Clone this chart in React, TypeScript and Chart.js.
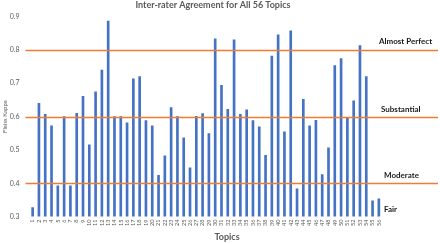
import React, { useEffect, useRef } from "react";
import { Chart, registerables } from "chart.js";

Chart.register(...registerables);

const topics: string[] = [
  "1","2","3","4","5","6","7","8","9","10","11","12","13","14","15","16","17","18","19","20",
  "21","22","23","24","25","26","27","28","29","30","31","32","33","34","35","36","37","38","39","40",
  "41","42","43","44","45","46","47","48","49","50","51","52","53","54","55","56",
];

const kappa: number[] = [
  0.327, 0.64, 0.607, 0.572, 0.392, 0.6, 0.392, 0.61, 0.661, 0.515,
  0.674, 0.739, 0.886, 0.6, 0.6, 0.581, 0.713, 0.72, 0.588, 0.572,
  0.424, 0.482, 0.627, 0.6, 0.536, 0.446, 0.601, 0.609, 0.549, 0.833,
  0.694, 0.622, 0.83, 0.607, 0.62, 0.588, 0.569, 0.484, 0.781, 0.845,
  0.554, 0.857, 0.383, 0.652, 0.572, 0.589, 0.426, 0.506, 0.753, 0.774,
  0.596, 0.647, 0.813, 0.72, 0.347, 0.353,
];

const yTicks: number[] = [0.3, 0.4, 0.5, 0.6, 0.7, 0.8, 0.9];
const thresholds: number[] = [0.4, 0.6, 0.8];
const bandLabels: string[] = ["Fair", "Moderate", "Substantial", "Almost Perfect"];
const bandLabelValues: number[] = [0.3, 0.4, 0.6, 0.8];
const chartTitle = "Inter-rater Agreement for All 56 Topics";
const xTitle = "Topics";

const FONT = "Lato, 'Open Sans', sans-serif";

const overlayPlugin = {
  id: "overlay",
  afterDatasetsDraw(chart: any) {
    const { ctx, chartArea, scales } = chart;
    const y = scales.y;
    ctx.save();
    ctx.strokeStyle = "#ED7D31";
    ctx.lineWidth = 1.3;
    thresholds.forEach((t) => {
      const py = Math.round(y.getPixelForValue(t)) + 0.5;
      ctx.beginPath();
      ctx.moveTo(chartArea.left - 4, py);
      ctx.lineTo(chart.width - 2, py);
      ctx.stroke();
    });
    ctx.fillStyle = "#1a1a1a";
    ctx.font = `bold 8px ${FONT}`;
    ctx.textBaseline = "middle";
    ctx.textAlign = "left";
    const offsets = [7, 8, 7, 8];
    const xs = [384, 384, 381, 379];
    bandLabels.forEach((lab, i) => {
      const py = y.getPixelForValue(bandLabelValues[i]) - offsets[i];
      ctx.fillText(lab, xs[i], py);
    });
    ctx.fillStyle = "#595959";
    ctx.textAlign = "center";
    ctx.font = `bold 9px ${FONT}`;
    ctx.fillText(chartTitle, 213, 5.5);
    ctx.fillText(xTitle, 227, 237.5);
    ctx.restore();
  },
};

export default function App() {
  const ref = useRef<HTMLCanvasElement | null>(null);
  useEffect(() => {
    document.body.style.margin = "0";
    if (!ref.current) return;
    const chart = new Chart(ref.current, {
      type: "bar",
      data: {
        labels: topics,
        datasets: [
          {
            label: "Fleiss Kappa",
            data: kappa,
            backgroundColor: "#4472C4",
            barThickness: 2,
          },
        ],
      },
      options: {
        animation: false,
        responsive: false,
        layout: { padding: { left: 0, right: 58, top: 16.5, bottom: 15 } },
        plugins: {
          legend: { display: false },
          tooltip: { enabled: false },
          title: { display: false },
        },
        scales: {
          x: {
            grid: { display: false, drawTicks: false },
            border: { display: false },
            ticks: {
              autoSkip: false,
              minRotation: 90,
              maxRotation: 90,
              color: "#595959",
              font: { family: FONT, size: 5.5 },
              padding: 3,
            },
          },
          y: {
            min: 0.3,
            max: 0.9,
            afterBuildTicks: (axis: any) => {
              axis.ticks = yTicks.map((v) => ({ value: v }));
            },
            afterFit: (axis: any) => {
              axis.width = 29.5;
            },
            grid: { display: false, drawTicks: false },
            border: { display: false },
            ticks: {
              color: "#595959",
              font: { family: FONT, size: 7 },
              padding: 10,
              callback: (v: any) => Number(v).toFixed(1),
            },
            title: {
              display: true,
              text: "Fleiss Kappa",
              color: "#595959",
              font: { family: FONT, size: 6 },
              padding: { top: 1, bottom: 0 },
            },
          },
        },
      },
      plugins: [overlayPlugin],
    });
    return () => chart.destroy();
  }, []);
  return (
    <div style={{ width: 440, height: 244 }}>
      <canvas ref={ref} width={440} height={244} />
    </div>
  );
}
